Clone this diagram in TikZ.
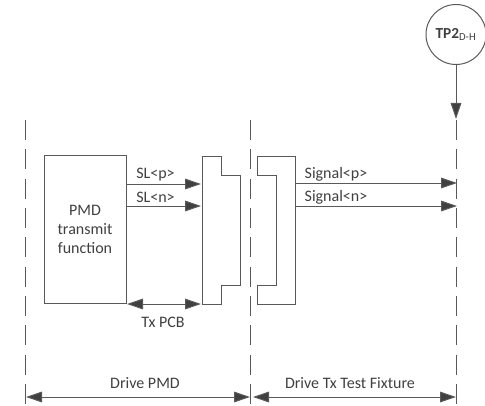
\documentclass[tikz,border=0pt]{standalone}
\usepackage{fontspec}
\setmainfont{Carlito}
\usetikzlibrary{arrows.meta}
\definecolor{linegray}{HTML}{595959}
\definecolor{tipgray}{HTML}{404040}
\definecolor{textgray}{HTML}{404040}
\begin{document}
\begin{tikzpicture}[x=0.75pt,y=-0.75pt,
  line width=0.75pt,draw=linegray,text=textgray,
  main node/.style={rectangle,draw,align=center,font=\fontsize{12}{14.2}\selectfont,inner sep=0pt},
  tp node/.style={circle,draw,inner sep=0pt,minimum size=45pt,font=\fontsize{11.5}{13}\selectfont},
  label node/.style={font=\fontsize{12}{13}\selectfont,inner sep=0pt},
  sig arrow/.style={-{Triangle[length=12pt,width=8pt,fill=tipgray]}},
  dim arrow/.style={{Triangle[length=12pt,width=8pt,fill=tipgray]}-{Triangle[length=12pt,width=8pt,fill=tipgray]}},
  bound line/.style={dash pattern=on 15pt off 7pt}]

  \useasboundingbox (0,0) rectangle (485,406);

  % boundaries
  \coordinate (b1 top) at (25.5,120);
  \coordinate (b1 bot) at (25.5,405);
  \coordinate (b2 top) at (250.5,120);
  \coordinate (b2 bot) at (250.5,405);
  \coordinate (b3 top) at (456,120);
  \coordinate (b3 bot) at (456,405);
  \path[bound line]
   (b1 top) edge (b1 bot)
   (b2 top) edge (b2 bot)
   (b3 top) edge (b3 bot);

  % blocks
  \node[main node,minimum width=61.5pt,minimum height=110.25pt] (pmd) at (85,229.5) {PMD\\transmit\\function};
  \node[tp node] (tp2) at (456,34.5) {\textbf{TP2}\textsubscript{D-H}};

  % connectors
  \draw (202.5,157) -- (221,157) -- (221,175.5) -- (240,175.5) -- (240,285.5) -- (221,285.5) -- (221,304) -- (202.5,304) -- cycle;
  \draw (257.5,157) -- (295,157) -- (295,304) -- (257.5,304) -- (257.5,285.5) -- (276.5,285.5) -- (276.5,175.5) -- (257.5,175.5) -- cycle;

  % end points of the arrows
  \coordinate (slp a) at (126,184);
  \coordinate (slp b) at (201,184);
  \coordinate (sln a) at (126,206);
  \coordinate (sln b) at (201,206);
  \coordinate (pcb a) at (127,304);
  \coordinate (pcb b) at (201,304);
  \coordinate (sigp a) at (295,183);
  \coordinate (sigp b) at (457,183);
  \coordinate (sign a) at (295,206);
  \coordinate (sign b) at (457,206);
  \coordinate (tp end) at (456,119);
  \coordinate (pmd a) at (26,397);
  \coordinate (pmd b) at (250,397);
  \coordinate (fix a) at (253,397);
  \coordinate (fix b) at (456,397);

  \path[sig arrow]
   (slp a) edge (slp b)
   (sln a) edge (sln b)
   (sigp a) edge (sigp b)
   (sign a) edge (sign b)
   (tp2) edge (tp end);
  \path[dim arrow]
   (pcb a) edge (pcb b)
   (pmd a) edge (pmd b)
   (fix a) edge (fix b);

  % labels
  \node[label node] (slp) at (155.5,175) {SL<p>};
  \node[label node] (sln) at (155.5,197) {SL<n>};
  \node[label node] (sigp) at (336,174) {Signal<p>};
  \node[label node] (sign) at (336,197) {Signal<n>};
  \node[label node] (pcb) at (163,322) {Tx PCB};
  \node[label node] (drive) at (145,383) {Drive PMD};
  \node[label node] (fixture) at (350,383) {Drive Tx Test Fixture};
\end{tikzpicture}
\end{document}
